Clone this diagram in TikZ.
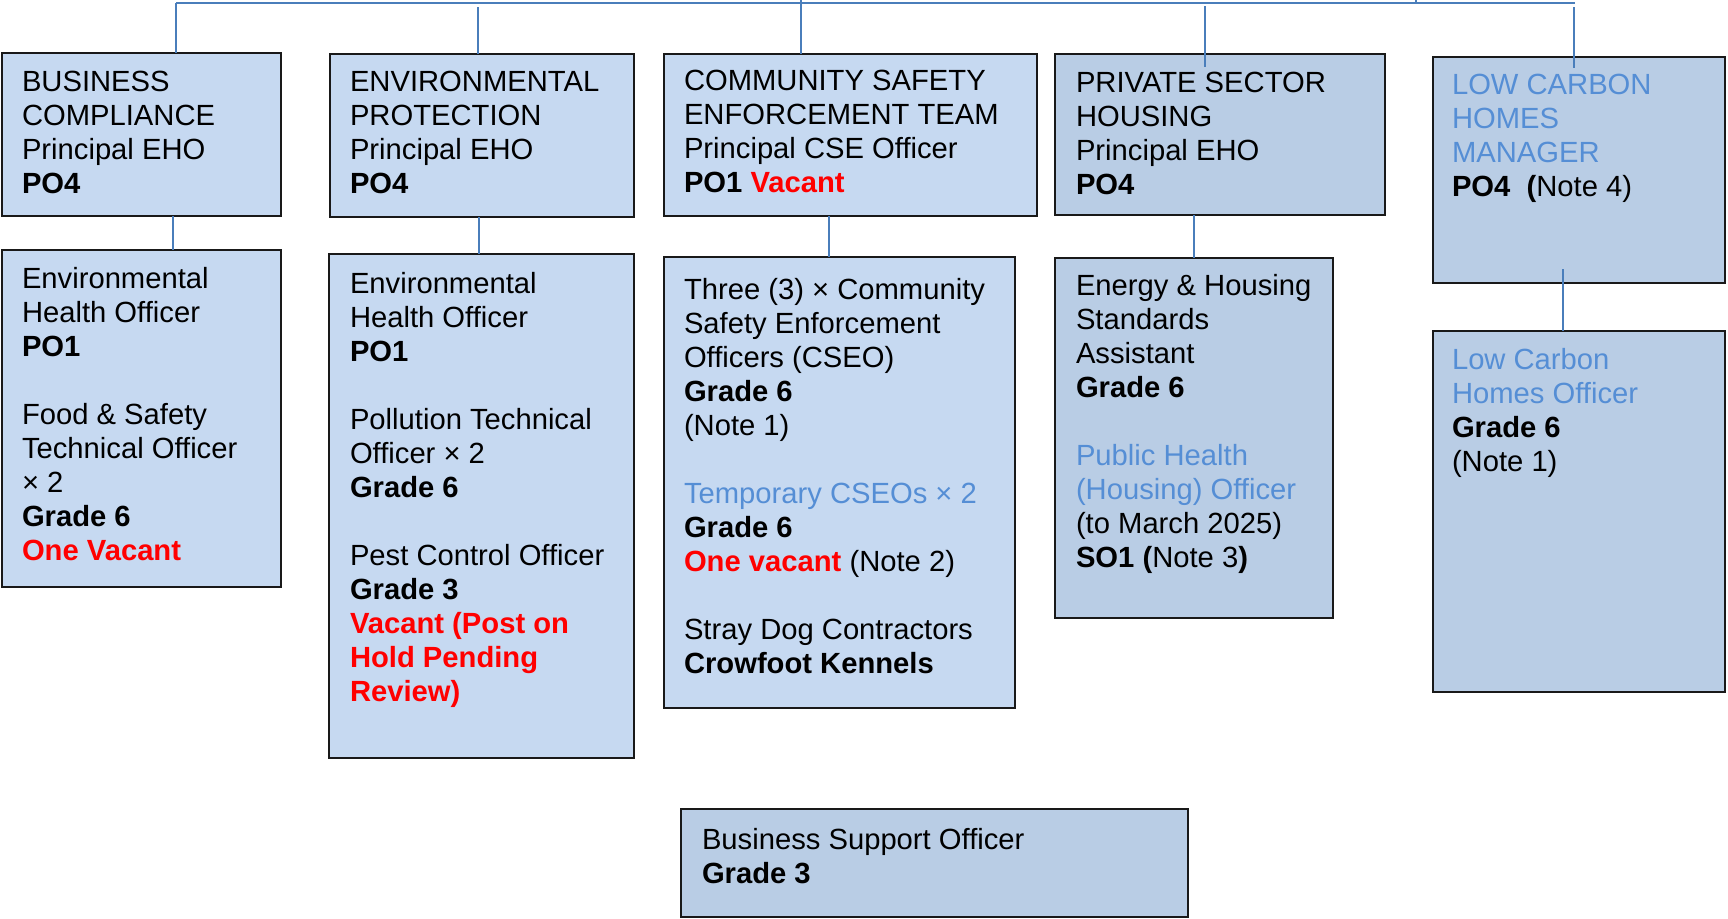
\documentclass[tikz,border=0pt]{standalone}
\usepackage{fontspec}
\setmainfont{Liberation Sans}
\definecolor{fillA}{HTML}{C6D9F1}
\definecolor{fillB}{HTML}{B9CDE5}
\definecolor{lineblue}{HTML}{4A7EBB}
\definecolor{txtblue}{HTML}{558ED5}
\definecolor{vacred}{HTML}{FF0000}
\newcommand{\vac}[1]{\textcolor{vacred}{\textbf{#1}}}
\newcommand{\lb}[1]{\textcolor{txtblue}{#1}}
\begin{document}
\begin{tikzpicture}[x=0.5pt,y=-0.5pt,
  box/.style={draw=black!90, line width=1pt, anchor=north west, inner sep=0pt, outer sep=0pt},
  boxA/.style={box, fill=fillA},
  boxB/.style={box, fill=fillB},
  txt/.style={anchor=north west, inner sep=0pt, outer sep=0pt, align=left,
    font=\fontsize{14.6pt}{17pt}\selectfont},
  conn/.style={draw=lineblue, line width=0.8pt}]
\useasboundingbox (0,0) rectangle (1728,918);

% boxes
\node[boxA, minimum width=139.5pt, minimum height=81.5pt] (b1) at (2,53) {};
\node[boxA, minimum width=152pt, minimum height=81.5pt] (b2) at (330,54) {};
\node[boxA, minimum width=186.5pt, minimum height=81pt] (b3) at (664,54) {};
\node[boxB, minimum width=165pt, minimum height=80.5pt] (b4) at (1055,54) {};
\node[boxB, minimum width=146pt, minimum height=113pt] (b5) at (1433,57) {};
\node[boxA, minimum width=139.5pt, minimum height=168.5pt] (c1) at (2,250) {};
\node[boxA, minimum width=152.5pt, minimum height=252pt] (c2) at (329,254) {};
\node[boxA, minimum width=175.5pt, minimum height=225.5pt] (c3) at (664,257) {};
\node[boxB, minimum width=139pt, minimum height=180pt] (c4) at (1055,258) {};
\node[boxB, minimum width=146pt, minimum height=180.5pt] (c5) at (1433,331) {};
\node[boxB, minimum width=253.5pt, minimum height=54pt] (bs) at (681,809) {};

% texts
\node[txt] (t1) at (22,67.2) {\strut BUSINESS\\COMPLIANCE\\Principal EHO\\\textbf{PO4}};
\node[txt] (t2) at (350,67.2) {\strut ENVIRONMENTAL\\PROTECTION\\Principal EHO\\\textbf{PO4}};
\node[txt] (t3) at (684,66.2) {\strut COMMUNITY SAFETY\\ENFORCEMENT TEAM\\Principal CSE Officer\\\textbf{PO1} \vac{Vacant}};
\node[txt] (t4) at (1076,68.2) {\strut PRIVATE SECTOR\\HOUSING\\Principal EHO\\\textbf{PO4}};
\node[txt] (t5) at (1452,70.2) {\strut \lb{LOW CARBON}\\\lb{HOMES}\\\lb{MANAGER}\\\textbf{PO4}\ \ \textbf{(}Note 4)};

\node[txt] (u1) at (22,264.2) {\strut Environmental\\Health Officer\\\textbf{PO1}\\ \strut\\Food \& Safety\\Technical Officer\\× 2\\\textbf{Grade 6}\\\vac{One Vacant}};
\node[txt] (u2) at (350,269.2) {\strut Environmental\\Health Officer\\\textbf{PO1}\\ \strut\\Pollution Technical\\Officer × 2\\\textbf{Grade 6}\\ \strut\\Pest Control Officer\\\textbf{Grade 3}\\\vac{Vacant (Post on}\\\vac{Hold Pending}\\\vac{Review)}};
\node[txt] (u3) at (684,275.2) {\strut Three (3) × Community\\Safety Enforcement\\Officers (CSEO)\\\textbf{Grade 6}\\(Note 1)\\ \strut\\\lb{Temporary CSEOs × 2}\\\textbf{Grade 6}\\\vac{One vacant} (Note 2)\\ \strut\\Stray Dog Contractors\\\textbf{Crowfoot Kennels}};
\node[txt] (u4) at (1076,271.2) {\strut Energy \& Housing\\Standards\\Assistant\\\textbf{Grade 6}\\ \strut\\\lb{Public Health}\\\lb{(Housing) Officer}\\(to March 2025)\\\textbf{SO1 (}Note 3\textbf{)}};
\node[txt] (u5) at (1452,345.2) {\strut \lb{Low Carbon}\\\lb{Homes Officer}\\\textbf{Grade 6}\\(Note 1)};
\node[txt] (ts) at (702,825.2) {\strut Business Support Officer\\\textbf{Grade 3}};

% top connectors
\coordinate (topL) at (176,3);
\coordinate (topR) at (1575,3);
\coordinate (up3) at (801,0);
\coordinate (up6) at (1416,0);
\coordinate (d2) at (478,7);
\coordinate (d4) at (1205,6);
\coordinate (d5) at (1574,7);
\coordinate (e5) at (1563,269);
\draw[conn] (topL) -- (topR);
\draw[conn] (topL) -- (176,0 |- b1.north);
\draw[conn] (up3) -- (801,0 |- b3.north);
\draw[conn] (up6) -- (1416,3);
\draw[conn] (d2) -- (478,0 |- b2.north);
\draw[conn] (d4) -- (1205,67);
\draw[conn] (d5) -- (1574,68);
% second row connectors
\draw[conn] (173,0 |- b1.south) -- (173,0 |- c1.north);
\draw[conn] (479,0 |- b2.south) -- (479,0 |- c2.north);
\draw[conn] (829,0 |- b3.south) -- (829,0 |- c3.north);
\draw[conn] (1194,0 |- b4.south) -- (1194,0 |- c4.north);
\draw[conn] (e5) -- (1563,0 |- c5.north);
\end{tikzpicture}
\end{document}
